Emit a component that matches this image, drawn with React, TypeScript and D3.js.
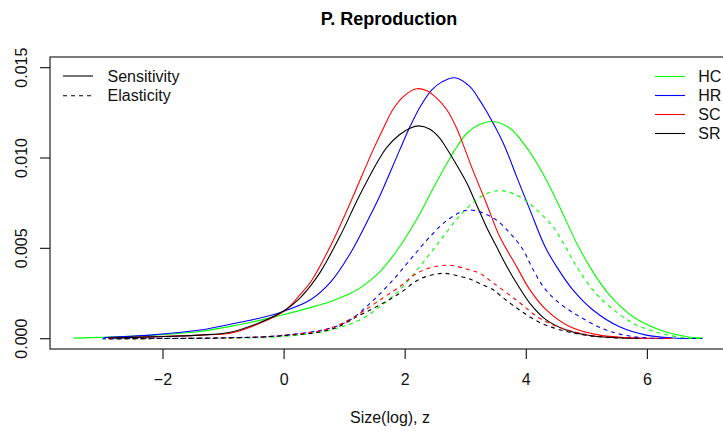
import React from "react";
import * as d3 from "d3";

// ---- Data ----
const title = "P. Reproduction";
const xLabel = "Size(log), z";
const xTicks = [-2, 0, 2, 4, 6];
const yTicks = [0, 0.005, 0.01, 0.015];
const yTickLabels = ["0.000", "0.005", "0.010", "0.015"];
const speciesNames = ["HC", "HR", "SC", "SR"];
const speciesColors = ["#00ff00", "#0000ff", "#ff0000", "#000000"];
const typeNames = ["Sensitivity", "Elasticity"];

// Sensitivity (solid)
const hcSensX = [-3.48, -3.0, -2.21, -1.39, -0.89, -0.56, -0.23, 0.02, 0.43, 0.76, 1.09, 1.25, 1.58, 1.91, 2.24, 2.41, 2.74, 2.82, 3.02, 3.21, 3.43, 3.73, 4.0, 4.28, 4.55, 4.83, 5.1, 5.38, 5.77, 6.21, 6.65, 6.91];
const hcSensY = [0.00003, 0.00008, 0.00019, 0.0004, 0.00068, 0.0009, 0.00115, 0.00135, 0.00172, 0.00205, 0.0025, 0.0028, 0.0037, 0.0051, 0.0069, 0.008, 0.01, 0.01045, 0.01137, 0.01182, 0.01202, 0.01165, 0.0106, 0.0091, 0.0073, 0.0053, 0.0037, 0.0024, 0.0012, 0.00048, 0.00011, 0.00004];

const hrSensX = [-2.98, -2.21, -1.39, -0.89, -0.56, -0.23, 0.02, 0.43, 0.76, 1.09, 1.42, 1.58, 1.91, 2.08, 2.25, 2.44, 2.6, 2.82, 3.07, 3.21, 3.34, 3.62, 3.84, 4.06, 4.31, 4.5, 4.77, 5.1, 5.54, 5.98, 6.42, 6.91];
const hrSensY = [0.00007, 0.0002, 0.00048, 0.0008, 0.00102, 0.00128, 0.00155, 0.00214, 0.0031, 0.0047, 0.0068, 0.0079, 0.01045, 0.01174, 0.01285, 0.01377, 0.0142, 0.01444, 0.01395, 0.0133, 0.0126, 0.01082, 0.00897, 0.00713, 0.00509, 0.00399, 0.0027, 0.00159, 0.00066, 0.0002, 0.00004, 0.00001];

const scSensX = [-2.9, -2.21, -1.39, -0.89, -0.4, 0.02, 0.26, 0.46, 0.76, 1.09, 1.47, 1.64, 1.8, 1.97, 2.19, 2.35, 2.52, 2.69, 2.85, 2.99, 3.12, 3.34, 3.56, 3.84, 4.06, 4.33, 4.72, 5.21, 5.65, 6.4];
const scSensY = [0.00004, 0.0001, 0.0002, 0.0003, 0.00085, 0.00159, 0.00242, 0.00325, 0.00509, 0.0075, 0.01045, 0.01165, 0.0127, 0.0134, 0.01383, 0.01373, 0.01331, 0.01266, 0.01165, 0.01045, 0.0093, 0.0075, 0.00565, 0.00399, 0.0027, 0.00159, 0.00066, 0.0002, 0.00006, 0.00001];

const srSensX = [-2.9, -2.21, -1.39, -0.89, -0.4, 0.02, 0.26, 0.43, 0.6, 0.92, 1.25, 1.58, 1.7, 1.91, 2.08, 2.22, 2.41, 2.57, 2.69, 2.8, 3.02, 3.12, 3.34, 3.51, 3.62, 3.84, 4.06, 4.33, 4.66, 5.1, 5.9];
const srSensY = [0.00003, 0.0001, 0.0002, 0.00036, 0.0009, 0.00159, 0.00225, 0.0029, 0.0037, 0.00565, 0.00795, 0.01, 0.0106, 0.0113, 0.01165, 0.01178, 0.01159, 0.0111, 0.0105, 0.0099, 0.0086, 0.00786, 0.0062, 0.00509, 0.00436, 0.00307, 0.00196, 0.00104, 0.00048, 0.00015, 0.00001];

// Elasticity (dashed)
const hcElasX = [-3.0, -2.0, -1.0, -0.07, 0.76, 1.25, 1.58, 1.91, 2.24, 2.57, 2.9, 3.18, 3.4, 3.62, 3.89, 4.17, 4.44, 4.66, 4.83, 5.1, 5.38, 5.77, 6.21, 6.65, 6.91];
const hcElasY = [0, 0.00001, 0.00003, 0.00011, 0.00048, 0.00104, 0.00177, 0.0027, 0.00399, 0.0054, 0.0068, 0.0077, 0.0081, 0.00818, 0.00786, 0.00713, 0.0062, 0.005, 0.004, 0.0027, 0.00177, 0.00085, 0.0003, 0.00004, 0.00001];

const hrElasX = [-3.0, -2.0, -1.0, -0.07, 0.76, 1.09, 1.42, 1.75, 2.08, 2.41, 2.74, 3.05, 3.46, 3.73, 3.95, 4.06, 4.28, 4.55, 4.88, 5.32, 5.77, 6.3];
const hrElasY = [0, 0.00002, 0.00005, 0.00017, 0.00058, 0.00104, 0.00196, 0.00307, 0.00436, 0.00565, 0.00667, 0.00712, 0.00667, 0.00584, 0.00491, 0.00417, 0.00288, 0.00196, 0.00122, 0.00048, 0.00011, 0.00001];

const scElasX = [-2.9, -2.0, -1.0, -0.07, 0.76, 1.25, 1.58, 1.91, 2.24, 2.7, 3.07, 3.23, 3.46, 3.87, 4.22, 4.6, 5.05, 5.44, 6.0];
const scElasY = [0, 0.00001, 0.00004, 0.00017, 0.00058, 0.0014, 0.00214, 0.00288, 0.00371, 0.00407, 0.0038, 0.00362, 0.00307, 0.00205, 0.00113, 0.00057, 0.0002, 0.00008, 0.00001];

const srElasX = [-2.9, -2.0, -1.0, -0.07, 0.76, 1.25, 1.58, 1.91, 2.24, 2.62, 2.9, 3.07, 3.23, 3.46, 3.56, 3.87, 4.22, 4.6, 5.05, 5.6];
const srElasY = [0, 0.00001, 0.00004, 0.00015, 0.0005, 0.0013, 0.00187, 0.00251, 0.0033, 0.00362, 0.00345, 0.0033, 0.00305, 0.0027, 0.00242, 0.00163, 0.0009, 0.00045, 0.00016, 0.00002];

const sensSeries = [
  { x: hcSensX, y: hcSensY },
  { x: hrSensX, y: hrSensY },
  { x: scSensX, y: scSensY },
  { x: srSensX, y: srSensY },
];
const elasSeries = [
  { x: hcElasX, y: hcElasY },
  { x: hrElasX, y: hrElasY },
  { x: scElasX, y: scElasY },
  { x: srElasX, y: srElasY },
];

// ---- Layout ----
const W = 723;
const H = 431;
const box = { left: 50, top: 57, right: 730, bottom: 349 };
const FONT = "'Liberation Sans', Arial, Helvetica, sans-serif";

export default function App() {
  const x = d3.scaleLinear().domain([-3.866, 7.364]).range([box.left, box.right]);
  const y = d3.scaleLinear().domain([-0.00057, 0.01559]).range([box.bottom, box.top]);

  const line = (s: { x: number[]; y: number[] }) =>
    d3
      .line<number>()
      .x((_, i) => x(s.x[i]))
      .y((v) => y(v))
      .curve(d3.curveCatmullRom.alpha(0.5))(s.y) || "";

  const tick = 10;
  const legendRowsRight = speciesNames.map((n, i) => ({ n, c: speciesColors[i], yy: 76.5 + i * 19 }));

  return (
    <svg
      width={W}
      height={H}
      style={{ position: "absolute", left: 0, top: 0, background: "#fff" }}
      fontFamily={FONT}
    >
      <rect x={0} y={0} width={W} height={H} fill="#fff" />
      {/* title */}
      <text x={389} y={25} textAnchor="middle" fontWeight="bold" fontSize={18}>
        {title}
      </text>

      {/* curves */}
      <g fill="none" strokeWidth={1.1}>
        {sensSeries.map((s, i) => (
          <path key={"s" + i} d={line(s)} stroke={speciesColors[i]} />
        ))}
        {elasSeries.map((s, i) => (
          <path key={"e" + i} d={line(s)} stroke={speciesColors[i]} strokeDasharray="4 4" />
        ))}
      </g>

      {/* box */}
      <rect
        x={box.left}
        y={box.top}
        width={box.right - box.left}
        height={box.bottom - box.top}
        fill="none"
        stroke="#222"
        strokeWidth={1.2}
      />

      {/* axes ticks */}
      <g stroke="#222" strokeWidth={1.2}>
        {xTicks.map((t) => (
          <line key={t} x1={x(t)} x2={x(t)} y1={box.bottom} y2={box.bottom + tick} />
        ))}
        {yTicks.map((t) => (
          <line key={t} x1={box.left - tick} x2={box.left} y1={y(t)} y2={y(t)} />
        ))}
      </g>
      <g fontSize={16} fill="#111">
        {xTicks.map((t) => (
          <text key={t} x={x(t)} y={384.5} textAnchor="middle">
            {t < 0 ? "\u2212" + Math.abs(t) : String(t)}
          </text>
        ))}
        {yTicks.map((t, i) => (
          <text
            key={t}
            transform={`translate(26.7,${y(t)}) rotate(-90)`}
            textAnchor="middle"
          >
            {yTickLabels[i]}
          </text>
        ))}
        <text x={390} y={423} textAnchor="middle">
          {xLabel}
        </text>
      </g>

      {/* left legend */}
      <g fontSize={16} fill="#111">
        <line x1={63} x2={93} y1={76} y2={76} stroke="#000" strokeWidth={1.1} />
        <line x1={63} x2={93} y1={95.7} y2={95.7} stroke="#000" strokeWidth={1.1} strokeDasharray="4 4" />
        <text x={107.5} y={81.5}>{typeNames[0]}</text>
        <text x={107.5} y={101.2}>{typeNames[1]}</text>
      </g>

      {/* right legend */}
      <g fontSize={16} fill="#111">
        {legendRowsRight.map((r) => (
          <g key={r.n}>
            <line x1={655} x2={685} y1={r.yy} y2={r.yy} stroke={r.c} strokeWidth={1.1} />
            <text x={698.3} y={r.yy + 5.5}>{r.n}</text>
          </g>
        ))}
      </g>
    </svg>
  );
}
